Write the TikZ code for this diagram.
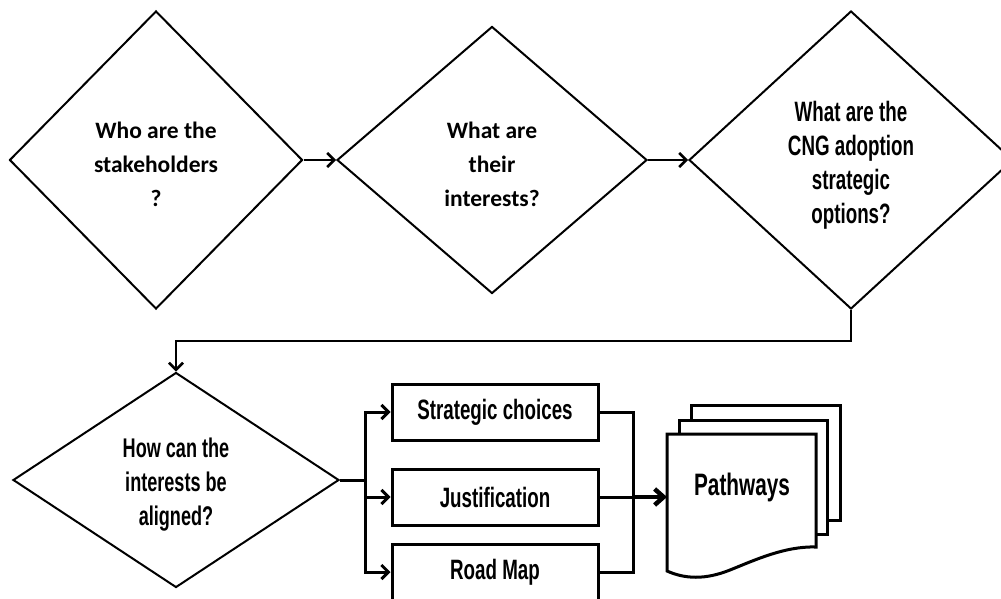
\documentclass[tikz,border=0pt]{standalone}
\usepackage{fontspec}
\setmainfont{Carlito}
\newfontfamily\narrowfont[FakeStretch=0.67]{Liberation Sans}
\usetikzlibrary{shapes.geometric,arrows.meta}

\begin{document}
\begin{tikzpicture}[x=1pt,y=-1pt,
  decision/.style={diamond, draw, line width=2pt, inner sep=0pt, fill=white},
  softtext/.style={font=\bfseries\fontsize{23.5}{34}\selectfont, align=center},
  condtext/.style={font=\narrowfont\bfseries\fontsize{28}{34}\selectfont, align=center},
  question/.style={label={[#1, yshift=-4pt]center:{\questiontext}}},
  stepbox/.style={draw, line width=3pt, minimum width=206pt, minimum height=56pt, inner sep=0pt, fill=white, condtext},
  flow/.style={line width=2.5pt, -{Straight Barb[length=7pt,width=14pt]}},
  branch/.style={line width=3pt, -{Straight Barb[length=7pt,width=14pt]}},
  joinline/.style={line width=3pt},
  bigflow/.style={line width=4.5pt, -{Straight Barb[length=9pt,width=16pt]}},
  docline/.style={line width=3pt, fill=white, line join=miter}
]
\useasboundingbox (0,0) rectangle (1001,599);
\clip (0,0) rectangle (1001,599);

% question diamonds (text set slightly below the centre)
\node[decision, minimum width=293pt, minimum height=298pt,
      label={[softtext, yshift=-4pt]center:{Who are the\\stakeholders\\?}}] (d1) at (156,160) {};
\node[decision, minimum width=310pt, minimum height=267pt,
      label={[softtext, yshift=-4pt]center:{What are\\their\\interests?}}] (d2) at (492,160) {};
\node[decision, minimum width=324pt, minimum height=298pt,
      label={[condtext, yshift=-5pt]center:{What are the\\CNG adoption\\strategic\\options?}}] (d3) at (851,160) {};
\node[decision, minimum width=326pt, minimum height=215pt,
      label={[font=\narrowfont\bfseries\fontsize{27}{34}\selectfont, align=center, yshift=-5pt]center:{How can the\\interests be\\aligned?}}] (d4) at (176,480) {};

% outcome boxes
\node[stepbox] (b1) at (495,412) {Strategic choices};
\node[stepbox] (b2) at (495,497) {Justification};
\node[stepbox] (b3) at (495,572) {Road Map};

% stacked document
\draw[docline] (691,405) rectangle (840,520);
\draw[docline] (679,420) rectangle (827,534);
\draw[docline] (667,434) -- (816,434) -- (816,547)
  .. controls (785,546) and (755,560) .. (730,570)
  .. controls (705,580) and (685,579) .. (667,571) -- cycle;
\node[font=\narrowfont\bfseries\fontsize{31}{36}\selectfont] (pw) at (742,487) {Pathways};
\coordinate (docin) at (667,497);

% connectors
\draw[flow] (d1.east) -- (d2.west);
\draw[flow] (d2.east) -- (d3.west);
\coordinate (turn) at (851,341);
\draw[flow] (d3.south) -- (turn) -| (d4.north);

\coordinate (fL) at (365,480);
\draw[joinline] (d4.east) -- (fL);
\draw[branch] (fL) |- (b1.west);
\draw[branch] (fL |- b2.west) -- (b2.west);
\draw[branch] (fL) |- (b3.west);

\coordinate (fR) at (633,497);
\draw[joinline] (b1.east) -| (fR);
\draw[joinline] (b3.east) -| (fR);
\draw[joinline] (b2.east) -- (fR);
\draw[bigflow] (fR) -- (docin);
\end{tikzpicture}
\end{document}
